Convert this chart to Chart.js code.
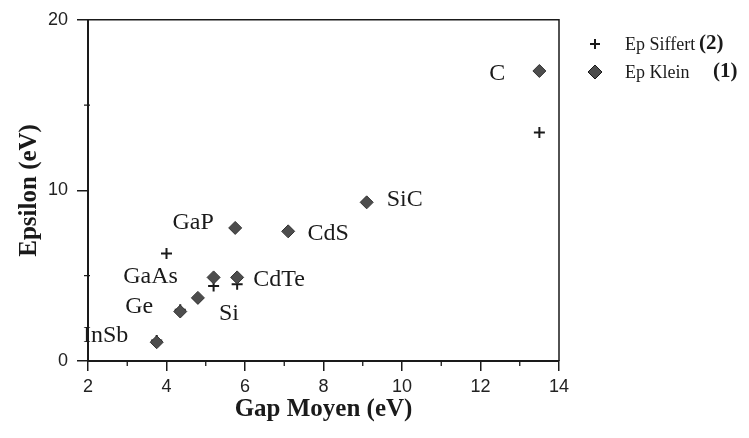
<!DOCTYPE html>
<html lang="fr">
<head>
    <meta charset="UTF-8">
    <title>Epsilon vs Gap Moyen</title>
    <script src="https://cdn.jsdelivr.net/npm/chart.js"></script>
    <style>
        html, body { margin: 0; padding: 0; background: #fff; }
        #wrap { width: 749px; height: 438px; }
    </style>
</head>
<body>
<div id="wrap"><canvas id="grafico"></canvas></div>
<script>
    // valeurs
    const materiaux = ['InSb', 'Ge', 'Si', 'GaAs', 'CdTe', 'GaP', 'CdS', 'SiC', 'C'];
    const gapKlein = [3.75, 4.35, 4.8, 5.2, 5.8, 5.75, 7.1, 9.1, 13.5];
    const epsKlein = [1.1, 2.9, 3.7, 4.9, 4.9, 7.8, 7.6, 9.3, 17.0];

    const gapSiffert = [3.75, 4.35, 4.0, 5.2, 5.8, 13.5];
    const epsSiffert = [1.2, 3.0, 6.3, 4.4, 4.5, 13.4];

    const xTicks = [2, 4, 6, 8, 10, 12, 14];
    const yTicks = [0, 10, 20];

    const serif = '"Liberation Serif", "Times New Roman", serif';
    const sans = '"Liberation Sans", Arial, sans-serif';

    // decalage des etiquettes (px) par rapport au point Klein
    const decalages = {
        InSb: [-51, -7], Ge: [-41, -5], Si: [31, 16], GaAs: [-63, -1], CdTe: [42, 2],
        GaP: [-42, -5], CdS: [40, 2], SiC: [38, -3], C: [-42, 3]
    };

    const pointsKlein = gapKlein.map((x, i) => ({ x: x, y: epsKlein[i] }));
    const pointsSiffert = gapSiffert.map((x, i) => ({ x: x, y: epsSiffert[i] }));

    const decor = {
        id: 'decor',
        afterDraw(chart) {
            const ctx = chart.ctx;
            const a = chart.chartArea;
            const sx = chart.scales.x, sy = chart.scales.y;
            ctx.save();
            ctx.strokeStyle = '#1a1a1a';

            // cadre haut et droite
            ctx.lineWidth = 1.5;
            ctx.beginPath();
            ctx.moveTo(a.left, a.top);
            ctx.lineTo(a.right, a.top);
            ctx.lineTo(a.right, a.bottom);
            ctx.stroke();

            // petites graduations
            ctx.lineWidth = 1.3;
            ctx.beginPath();
            for (let v = 3; v < 14; v += 2) {
                const px = sx.getPixelForValue(v);
                ctx.moveTo(px, a.bottom);
                ctx.lineTo(px, a.bottom + 5);
            }
            [5, 15].forEach(v => {
                const py = sy.getPixelForValue(v);
                ctx.moveTo(a.left - 4, py);
                ctx.lineTo(a.left + 2, py);
            });
            // croix a l'origine
            ctx.moveTo(a.left, a.bottom - 6);
            ctx.lineTo(a.left, a.bottom);
            ctx.stroke();

            // etiquettes des materiaux
            ctx.fillStyle = '#1a1a1a';
            ctx.font = '24px ' + serif;
            ctx.textAlign = 'center';
            ctx.textBaseline = 'middle';
            materiaux.forEach((nom, i) => {
                const px = sx.getPixelForValue(gapKlein[i]);
                const py = sy.getPixelForValue(epsKlein[i]);
                const d = decalages[nom];
                ctx.fillText(nom, px + d[0], py + d[1]);
            });

            // legende
            const lx = 595;
            ctx.lineWidth = 2;
            ctx.beginPath();
            ctx.moveTo(lx - 5, 44); ctx.lineTo(lx + 5, 44);
            ctx.moveTo(lx, 39); ctx.lineTo(lx, 49);
            ctx.stroke();
            ctx.fillStyle = '#4d4d4d';
            ctx.beginPath();
            ctx.moveTo(lx, 65); ctx.lineTo(lx + 7, 72); ctx.lineTo(lx, 79); ctx.lineTo(lx - 7, 72);
            ctx.closePath();
            ctx.fill();
            ctx.lineWidth = 1;
            ctx.stroke();

            ctx.fillStyle = '#1a1a1a';
            ctx.textAlign = 'left';
            ctx.font = '18px ' + serif;
            ctx.fillText('Ep Siffert', 625, 45);
            ctx.fillText('Ep Klein', 625, 73);
            ctx.font = 'bold 21px ' + serif;
            ctx.fillText('(2)', 699, 44);
            ctx.fillText('(1)', 713, 72);
            ctx.restore();
        }
    };

    new Chart(document.getElementById('grafico'), {
        type: 'scatter',
        data: {
            datasets: [{
                label: 'Ep Klein',
                data: pointsKlein,
                pointStyle: 'rectRot',
                pointRadius: 6.5,
                pointHoverRadius: 6.5,
                backgroundColor: '#4d4d4d',
                borderColor: '#333',
                borderWidth: 1
            }, {
                label: 'Ep Siffert',
                data: pointsSiffert,
                pointStyle: 'cross',
                pointRadius: 5.5,
                pointHoverRadius: 5.5,
                borderColor: '#1a1a1a',
                borderWidth: 2
            }]
        },
        options: {
            responsive: true,
            maintainAspectRatio: false,
            animation: false,
            layout: { padding: { top: 17, right: 190, left: 0, bottom: 0 } },
            plugins: { legend: { display: false }, tooltip: { enabled: false } },
            scales: {
                x: {
                    type: 'linear',
                    min: 2, max: 14,
                    afterFit: s => { s.height = 77; },
                    afterBuildTicks: s => { s.ticks = xTicks.map(v => ({ value: v })); },
                    border: { display: true, color: '#1a1a1a', width: 2 },
                    grid: { drawOnChartArea: false, drawTicks: true, tickLength: 10, color: '#1a1a1a', lineWidth: 1.5 },
                    ticks: { color: '#222', font: { family: sans, size: 18 }, padding: 5, maxRotation: 0 },
                    title: {
                        display: true, text: 'Gap Moyen (eV)', color: '#1a1a1a',
                        font: { family: serif, size: 25, weight: 'bold' },
                        padding: { top: 0, bottom: 13 }
                    }
                },
                y: {
                    type: 'linear',
                    min: 0, max: 20,
                    afterFit: s => { s.width = 88; },
                    afterBuildTicks: s => { s.ticks = yTicks.map(v => ({ value: v })); },
                    border: { display: true, color: '#1a1a1a', width: 2 },
                    grid: { drawOnChartArea: false, drawTicks: true, tickLength: 11, color: '#1a1a1a', lineWidth: 1.5 },
                    ticks: { color: '#222', font: { family: sans, size: 18 }, padding: 9 },
                    title: {
                        display: true, text: 'Epsilon (eV)', color: '#1a1a1a',
                        font: { family: serif, size: 25, weight: 'bold' },
                        padding: { top: 15, bottom: 0 }
                    }
                }
            }
        },
        plugins: [decor]
    });
</script>
</body>
</html>
